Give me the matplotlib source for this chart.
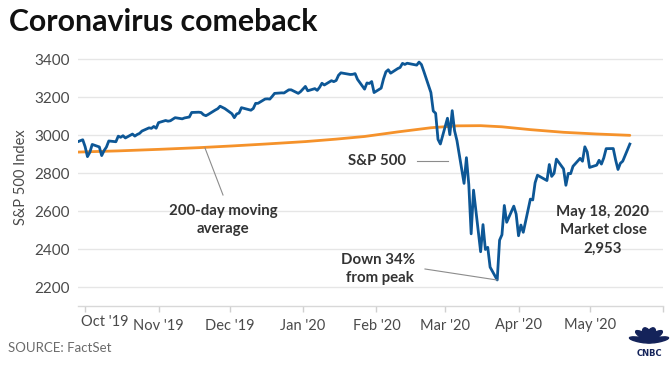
import matplotlib
matplotlib.use("Agg")
import matplotlib.pyplot as plt
import matplotlib.dates as mdates
from matplotlib.patches import Ellipse
from matplotlib.lines import Line2D
import matplotlib.transforms as mtransforms
import pandas as pd
import math

# ---------------- data ----------------
sp_dates = [
    "2019-09-26","2019-09-27","2019-09-30",
    "2019-10-01","2019-10-02","2019-10-03","2019-10-04","2019-10-07","2019-10-08","2019-10-09","2019-10-10",
    "2019-10-11","2019-10-14","2019-10-15","2019-10-16","2019-10-17","2019-10-18","2019-10-21","2019-10-22",
    "2019-10-23","2019-10-24","2019-10-25","2019-10-28","2019-10-29","2019-10-30","2019-10-31",
    "2019-11-01","2019-11-04","2019-11-05","2019-11-06","2019-11-07","2019-11-08","2019-11-11","2019-11-12",
    "2019-11-13","2019-11-14","2019-11-15","2019-11-18","2019-11-19","2019-11-20","2019-11-21","2019-11-22",
    "2019-11-25","2019-11-26","2019-11-27","2019-11-29",
    "2019-12-02","2019-12-03","2019-12-04","2019-12-05","2019-12-06","2019-12-09","2019-12-10","2019-12-11",
    "2019-12-12","2019-12-13","2019-12-16","2019-12-17","2019-12-18","2019-12-19","2019-12-20","2019-12-23",
    "2019-12-24","2019-12-26","2019-12-27","2019-12-30","2019-12-31",
    "2020-01-02","2020-01-03","2020-01-06","2020-01-07","2020-01-08","2020-01-09","2020-01-10","2020-01-13",
    "2020-01-14","2020-01-15","2020-01-16","2020-01-17","2020-01-21","2020-01-22","2020-01-23","2020-01-24",
    "2020-01-27","2020-01-28","2020-01-29","2020-01-30","2020-01-31",
    "2020-02-03","2020-02-04","2020-02-05","2020-02-06","2020-02-07","2020-02-10","2020-02-11","2020-02-12",
    "2020-02-13","2020-02-14","2020-02-18","2020-02-19","2020-02-20","2020-02-21","2020-02-24","2020-02-25",
    "2020-02-26","2020-02-27","2020-02-28",
    "2020-03-02","2020-03-03","2020-03-04","2020-03-05","2020-03-06","2020-03-09","2020-03-10","2020-03-11",
    "2020-03-12","2020-03-13","2020-03-16","2020-03-17","2020-03-18","2020-03-19","2020-03-20","2020-03-23",
    "2020-03-24","2020-03-25","2020-03-26","2020-03-27","2020-03-30","2020-03-31",
    "2020-04-01","2020-04-02","2020-04-03","2020-04-06","2020-04-07","2020-04-08","2020-04-09","2020-04-13",
    "2020-04-14","2020-04-15","2020-04-16","2020-04-17","2020-04-20","2020-04-21","2020-04-22","2020-04-23",
    "2020-04-24","2020-04-27","2020-04-28","2020-04-29","2020-04-30",
    "2020-05-01","2020-05-04","2020-05-05","2020-05-06","2020-05-07","2020-05-08","2020-05-11","2020-05-12",
    "2020-05-13","2020-05-14","2020-05-15","2020-05-18",
]
sp_close = [
    2977.6, 2961.8, 2976.7,
    2940.3, 2887.6, 2910.6, 2952.0, 2938.8, 2893.1, 2919.4, 2938.1,
    2970.3, 2966.2, 2995.7, 2989.7, 2998.0, 2986.2, 3006.7, 2996.0,
    3004.5, 3010.3, 3022.6, 3039.4, 3036.9, 3046.8, 3037.6,
    3066.9, 3078.3, 3074.6, 3076.8, 3085.2, 3093.1, 3087.0, 3091.8,
    3094.0, 3096.6, 3120.5, 3122.0, 3120.2, 3108.5, 3103.5, 3110.3,
    3133.6, 3140.5, 3153.6, 3141.0,
    3113.9, 3093.2, 3112.8, 3117.4, 3145.9, 3136.0, 3132.5, 3141.6,
    3168.6, 3168.8, 3191.5, 3192.5, 3191.1, 3205.4, 3221.2, 3224.0,
    3223.4, 3239.9, 3240.0, 3221.3, 3230.8,
    3257.9, 3234.9, 3246.3, 3237.2, 3253.1, 3274.7, 3265.4, 3288.1,
    3283.2, 3289.3, 3316.8, 3329.6, 3320.8, 3321.8, 3325.5, 3295.5,
    3243.6, 3276.2, 3273.4, 3283.7, 3225.5,
    3248.9, 3297.6, 3334.7, 3345.8, 3327.7, 3352.1, 3357.8, 3379.5,
    3373.9, 3380.2, 3370.3, 3386.2, 3373.2, 3337.8, 3225.9, 3128.2,
    3116.4, 2978.8, 2954.2,
    3090.2, 3003.4, 3130.1, 3023.9, 2972.4, 2746.6, 2882.2, 2741.4,
    2480.6, 2711.0, 2386.1, 2529.2, 2398.1, 2409.4, 2304.9, 2237.4,
    2447.3, 2475.6, 2630.1, 2541.5, 2626.7, 2584.6,
    2470.5, 2526.9, 2488.7, 2663.7, 2659.4, 2750.0, 2789.8, 2761.6,
    2846.1, 2783.4, 2799.6, 2874.6, 2823.2, 2736.6, 2799.3, 2797.8,
    2836.7, 2878.5, 2863.4, 2939.5, 2912.4,
    2830.7, 2842.7, 2868.4, 2848.4, 2881.2, 2929.8, 2930.3, 2870.1,
    2820.0, 2852.5, 2863.7, 2953.9,
]

ma_dates = ["2019-09-26","2019-10-15","2019-11-01","2019-11-18","2019-12-02","2019-12-16",
            "2020-01-02","2020-01-15","2020-01-27","2020-02-10","2020-02-24","2020-03-06",
            "2020-03-16","2020-03-25","2020-04-06","2020-04-20","2020-05-04","2020-05-18"]
ma_values = [2911, 2918, 2926, 2935, 2944, 2954,
             2967, 2980, 2994, 3018, 3040, 3050,
             3051, 3045, 3030, 3016, 3007, 3000]

month_ticks = ["2019-10-01","2019-11-01","2019-12-01","2020-01-01","2020-02-01",
               "2020-03-01","2020-04-01","2020-05-01","2020-06-01"]
month_labels = ["Oct '19","Nov '19","Dec '19","Jan '20","Feb '20","Mar '20","Apr '20","May '20",""]
y_ticks = [2200, 2400, 2600, 2800, 3000, 3200, 3400]

# ---------------- style ----------------
W, H = 670, 373
BLUE = "#0d5796"
ORANGE = "#f5922b"
TXT = "#333333"
TICK = "#4a4a4a"
GRID = "#e6e6e6"
FONT = "Lato"

plt.rcParams["font.family"] = [FONT, "DejaVu Sans"]

fig = plt.figure(figsize=(W / 100, H / 100), dpi=100)
fig.patch.set_facecolor("white")

def fx(px):
    return px / W

def fy(py):
    return 1 - py / H

ax = fig.add_axes([fx(78), fy(306), fx(663) - fx(78), fy(50) - fy(306)])

sp_d = pd.to_datetime(sp_dates)
ma_d = pd.to_datetime(ma_dates)

ax.plot(ma_d, ma_values, color=ORANGE, lw=2.0, solid_capstyle="round", zorder=3)
ax.plot(sp_d, sp_close, color=BLUE, lw=2.0, solid_joinstyle="round", zorder=4)

ax.set_xlim(pd.Timestamp("2019-09-28"), pd.Timestamp("2020-06-01"))
ax.set_ylim(2100, 3450)

ax.set_yticks(y_ticks)
ax.set_yticklabels([str(v) for v in y_ticks])
ax.grid(axis="y", color=GRID, lw=1.0, zorder=0)
ax.tick_params(axis="y", length=0, pad=6, labelsize=11, labelcolor=TICK)

tick_d = pd.to_datetime(month_ticks)
ax.set_xticks(tick_d)
ax.set_xticklabels([""] + month_labels[1:])
ax.tick_params(axis="x", length=4, width=1, color="#d0d0d0", pad=5, labelsize=10.5, labelcolor=TICK)

# Oct label sits shifted right of its tick
trans = mtransforms.blended_transform_factory(ax.transData, ax.transAxes)
ax.text(mdates.date2num(tick_d[0]) - 1.7, -0.035, month_labels[0], transform=trans,
        ha="left", va="top", fontsize=10.5, color=TICK)

for s in ["top", "right", "left"]:
    ax.spines[s].set_visible(False)
ax.spines["bottom"].set_color("#d8d8d8")
ax.spines["bottom"].set_linewidth(1.0)

fig.text(fx(21), fy(177), "S&P 500 Index", rotation=90, fontsize=10.5, color=TICK,
         ha="center", va="center")

# ---------------- titles / annotations ----------------
fig.text(fx(9), fy(22), "Coronavirus comeback", fontsize=21.8, fontweight="bold",
         color="#111111", ha="left", va="center")
fig.text(fx(8), fy(348), "SOURCE: FactSet", fontsize=9.5, color="#6b6b6b", ha="left", va="center")

def ftext(x, y, s, **kw):
    fig.text(fx(x), fy(y), s, fontsize=10.8, fontweight="bold", color=TXT,
             ha="center", va="center", **kw)

def fline(x0, y0, x1, y1):
    fig.add_artist(Line2D([fx(x0), fx(x1)], [fy(y0), fy(y1)], color="#8c8c8c", lw=0.8,
                          transform=fig.transFigure))

ftext(377, 161, "S&P 500")
fline(417, 161, 448, 161)

ftext(223, 211, "200-day moving")
ftext(223, 229, "average")
fline(205, 148, 223, 195)

ftext(378, 260, "Down 34%")
ftext(380, 278, "from peak")
fline(425, 269, 497, 280)

ftext(603, 212, "May 18, 2020")
ftext(603, 230, "Market close")
ftext(603, 249, "2,953")

# ---------------- CNBC logo (simplified peacock) ----------------
NAVY = "#14235a"
cx, cy = 649, 343
for ang in [160, 128, 102, 78, 52, 20]:
    a = math.radians(ang)
    ex = cx + 9 * math.cos(a)
    ey = cy - 9 * math.sin(a)
    e = Ellipse((fx(ex), fy(ey)), width=fx(8), height=(fy(0) - fy(13)),
                angle=ang - 90, transform=fig.transFigure, color=NAVY)
    fig.add_artist(e)
fig.text(fx(649), fy(354), "CNBC", fontsize=6, fontweight="bold", color=NAVY,
         ha="center", va="center", family="DejaVu Sans")

fig.savefig("out.png", dpi=100, facecolor="white")
